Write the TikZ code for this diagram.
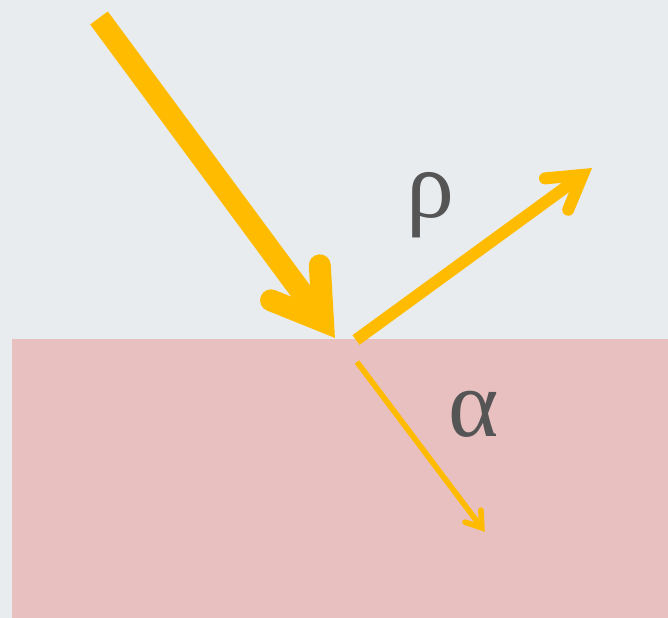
\documentclass[tikz,border=0pt]{standalone}
\usepackage{fontspec}
\newfontfamily\labelfont{Liberation Serif}
\definecolor{raycol}{RGB}{255,187,0}
\definecolor{aircol}{RGB}{233,236,239}
\definecolor{skincol}{RGB}{232,192,192}
\definecolor{labelcol}{RGB}{85,85,85}
\tikzset{
  ray/.style={draw=raycol,line cap=butt},
  rayhead/.style={draw=raycol,line cap=round,line join=miter},
  lbl/.style={text=labelcol,font=\labelfont\fontsize{82}{84}\selectfont,inner sep=0pt}
}
\begin{document}
\begin{tikzpicture}[x=0.03cm,y=-0.03cm]
\fill[aircol] (0,0) rectangle (668,618);
\fill[skincol] (12,339) rectangle (668,618);
% incoming ray
\coordinate (inS) at (99,18);
\coordinate (inV) at (323,321.3);
\coordinate (inB1) at (271,300.3);
\coordinate (inB2) at (319.8,265.3);
% reflected ray
\coordinate (refS) at (356,340);
\coordinate (refV) at (582.7,174.9);
\coordinate (refB1) at (545,178.4);
\coordinate (refB2) at (568.2,209.8);
% absorbed ray
\coordinate (absS) at (357,362);
\coordinate (absV) at (481.8,527.8);
\coordinate (absB1) at (464.9,522.1);
\coordinate (absB2) at (480.9,510.1);
\draw[ray,line width=18.7pt] (inS) -- (inV);
\draw[rayhead,line width=18.7pt] (inB1) -- (inV) -- (inB2);
\draw[ray,line width=10.2pt] (refS) -- (refV);
\draw[rayhead,line width=10.2pt] (refB1) -- (refV) -- (refB2);
\draw[ray,line width=4.8pt] (absS) -- (absV);
\draw[rayhead,line width=4.8pt] (absB1) -- (absV) -- (absB2);
\node[lbl] (rho) at (430,205) {ρ};
\node[lbl] (alpha) at (474,414) {α};
\end{tikzpicture}
\end{document}
